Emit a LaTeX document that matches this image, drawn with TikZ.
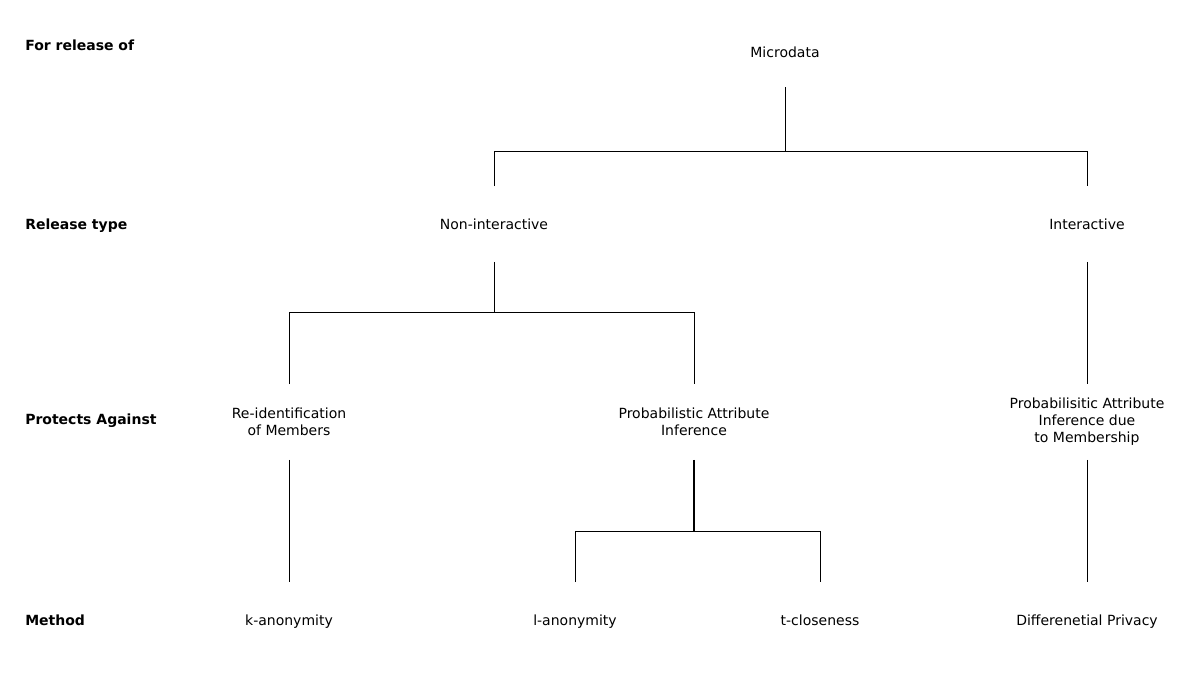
\documentclass[tikz,border=0pt]{standalone}
\usepackage{fontspec}
\setmainfont{DejaVu Sans}
\begin{document}
\begin{tikzpicture}[x=0.75pt,y=-0.75pt,
  every node/.style={font=\fontsize{10.5}{12.75}\selectfont},
  item/.style={align=center, inner sep=0pt, minimum height=56.25pt},
  one/.style={text height=11pt, text depth=2.5pt},
  rowlabel/.style={anchor=west, inner sep=0pt, text height=11pt, text depth=2.5pt, font=\fontsize{10.5}{12.75}\selectfont\bfseries},
  link/.style={line width=0.75pt},
  boldlink/.style={line width=1.3pt}]
\useasboundingbox (0,0) rectangle (1200,674);
% row labels
\node[rowlabel] (l1) at (25,45) {For release of};
\node[rowlabel] (l2) at (25,224) {Release type};
\node[rowlabel] (l3) at (25,419) {Protects Against};
\node[rowlabel] (l4) at (25,620) {Method};
% nodes
\node[item,one,minimum height=52.5pt] (micro) at (785,52) {Microdata};
\node[item,one] (nonint) at (494,224) {Non-interactive};
\node[item,one] (inter) at (1087,224) {Interactive};
\node[item] (reid) at (289,422) {Re-identification\\of Members};
\node[item] (pai) at (694,422) {Probabilistic Attribute\\Inference};
\node[item] (paim) at (1087,422) {Probabilisitic Attribute\\Inference due\\to Membership};
\node[item,one] (kanon) at (289,620) {k-anonymity};
\node[item,one] (lanon) at (575,620) {l-anonymity};
\node[item,one] (tclose) at (820,620) {t-closeness};
\node[item,one] (dp) at (1087,620) {Differenetial Privacy};
% junctions
\coordinate (j1) at (785,151);
\coordinate (j2) at (494,312);
\coordinate (j3) at (694,531);
% connectors
\draw[link] (micro.south) -- (j1);
\draw[link] (nonint.north) -- (nonint.north |- j1) -- (inter.north |- j1) -- (inter.north);
\draw[link] (nonint.south) -- (j2);
\draw[link] (reid.north) -- (reid.north |- j2) -- (pai.north |- j2) -- (pai.north);
\draw[link] (inter.south) -- (paim.north);
\draw[link] (reid.south) -- (kanon.north);
\draw[boldlink] (pai.south) -- (j3);
\draw[link] (lanon.north) -- (lanon.north |- j3) -- (tclose.north |- j3) -- (tclose.north);
\draw[link] (paim.south) -- (dp.north);
\end{tikzpicture}
\end{document}
